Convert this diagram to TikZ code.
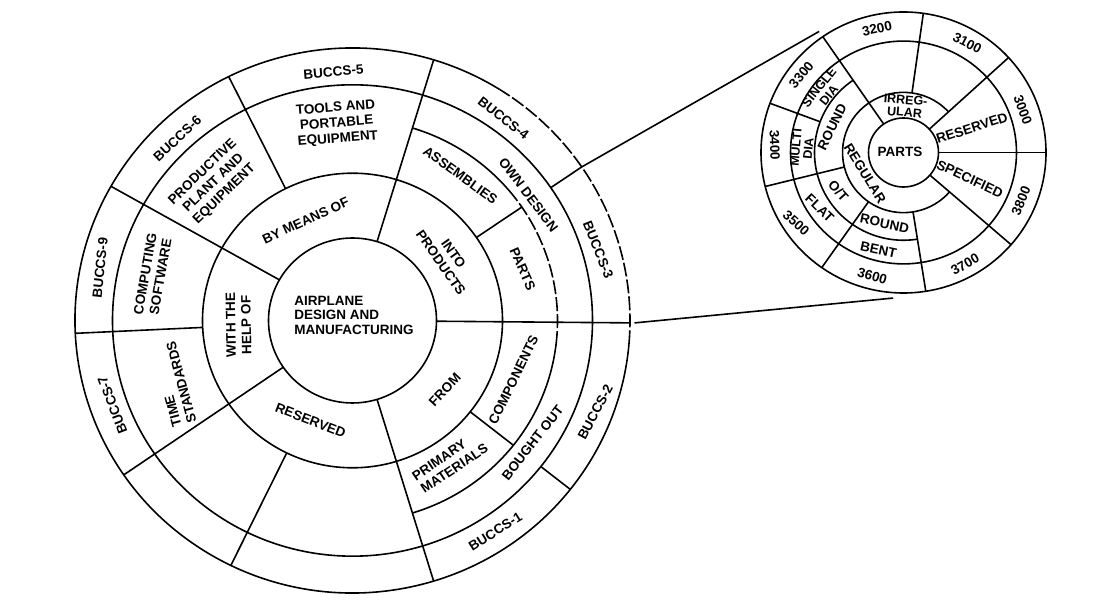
\documentclass[tikz,border=0pt]{standalone}
\usepackage{fontspec}
\setmainfont{Liberation Sans}
\tikzset{
  ring/.style={line width=1.6pt},
  worn/.style={line width=1.6pt,dash pattern=on 14pt off 3pt},
  lb/.style={font=\bfseries\fontsize{13.5}{15.5}\selectfont,align=center,inner sep=0pt},
  lbl/.style={lb,align=left},
  lbt/.style={lb,font=\bfseries\fontsize{12.5}{12.5}\selectfont},
}

\begin{document}
\begin{tikzpicture}[x=1pt,y=1pt,line join=round]
\useasboundingbox (0,0) rectangle (1098,607);
\begin{scope}[shift={(352.5,286.5)},yscale=0.982]
\draw[ring] (0,0) circle[radius=84];
\draw[ring] (0,0) circle[radius=150];
\draw[ring] (0,0) circle[radius=240];
\draw[ring] (58:277.5) arc[start angle=58,end angle=355,radius=277.5];
\draw[worn] (-5:277.5) arc[start angle=-5,end angle=58,radius=277.5];
\draw[ring] (-73:205) arc[start angle=-73,end angle=-7,radius=205];
\draw[worn] (-7:205) arc[start angle=-7,end angle=37,radius=205];
\draw[ring] (37:205) arc[start angle=37,end angle=73,radius=205];
\draw[ring] (73:84) -- (73:277.5);
\draw[ring] (-73:84) -- (-73:277.5);
\draw[ring] (-0.5:84) -- (-0.5:277.5);
\draw[ring] (150.5:84) -- (150.5:277.5);
\draw[ring] (214.5:84) -- (214.5:277.5);
\draw[ring] (116.5:150) -- (116.5:277.5);
\draw[ring] (182.7:150) -- (182.7:277.5);
\draw[ring] (-116:150) -- (-116:277.5);
\draw[ring] (34.3:150) -- (34.3:205);
\draw[ring] (34.3:240) -- (34.3:277.5);
\draw[ring] (-38.3:150) -- (-38.3:205);
\draw[ring] (-38.3:240) -- (-38.3:277.5);
\coordinate (bt) at (34.3:277.5);
\coordinate (bb) at (-0.5:282);
\node[lbl,font=\bfseries\fontsize{13.5}{14.5}\selectfont] (adm) at (1.5,5.6) {AIRPLANE\\DESIGN AND\\MANUFACTURING};
\node[lb,rotate=24.7] (bymeans) at (114.7:112) {BY MEANS OF};
\node[lb,rotate=4.5] (tools) at (94.5:201) {TOOLS AND\\PORTABLE\\EQUIPMENT};
\node[lb,rotate=5] (b5) at (94.3:254) {BUCCS-5};
\node[lb,rotate=43] (b6) at (133.4:255) {BUCCS-6};
\node[lb,rotate=44] (plant) at (134.8:197) {PRODUCTIVE\\PLANT AND\\EQUIPMENT};
\node[lb,rotate=80] (soft) at (167:205) {COMPUTING\\SOFTWARE};
\node[lb,rotate=84] (b9) at (168:258) {BUCCS-9};
\node[lb,rotate=91] (help) at (182.3:114) {WITH THE\\HELP OF};
\node[lbl,rotate=105] (time) at (200:190) {TIME\\STANDARDS};
\node[lb,rotate=111] (b7) at (199.7:255) {BUCCS-7};
\node[lb,rotate=-21] (resv) at (247.6:110) {RESERVED};
\node[lb,rotate=47] (from) at (-37.3:116) {FROM};
\node[lbl,rotate=34] (prim) at (-55.9:174) {PRIMARY\\MATERIALS};
\node[lb,rotate=64] (comp) at (-20.6:172) {COMPONENTS};
\node[lb,rotate=52] (bought) at (-34.7:219) {BOUGHT OUT};
\node[lb,rotate=32] (b1) at (-56.4:258) {BUCCS-1};
\node[lb,rotate=62] (b2) at (-21:260) {BUCCS-2};
\node[lb,rotate=-55] (into) at (33.8:114) {INTO\\PRODUCTS};
\node[lb,rotate=-36] (assy) at (53.9:183) {ASSEMBLIES};
\node[lb,rotate=-66] (parts) at (17.1:178) {PARTS};
\node[lb,rotate=-53] (own) at (36:217.5) {OWN DESIGN};
\node[lb,rotate=-38] (b4) at (53.8:255.6) {BUCCS-4};
\node[lb,rotate=-68] (b3) at (16.3:256) {BUCCS-3};
\end{scope}
\begin{scope}[shift={(903.5,454.5)},yscale=0.986]
\draw[ring] (0,0) circle[radius=35];
\draw[ring] (0,0) circle[radius=113];
\draw[ring] (0,0) circle[radius=142.5];
\draw[ring] (42.5:61) arc[start angle=42.5,end angle=319,radius=61];
\draw[ring] (124.5:89) arc[start angle=124.5,end angle=279,radius=89];
\draw[ring] (124.5:35) -- (124.5:142.5);
\draw[ring] (82:61) -- (82:142.5);
\draw[ring] (42.5:35) -- (42.5:142.5);
\draw[ring] (0:35) -- (0:142.5);
\draw[ring] (-41:35) -- (-41:142.5);
\draw[ring] (-81:61) -- (-81:142.5);
\draw[ring] (235:61) -- (235:142.5);
\draw[ring] (194:61) -- (194:142.5);
\draw[ring] (159.5:89) -- (159.5:142.5);
\coordinate (st) at (124.5:149);
\coordinate (sb) at (266:148);
\node[lb] (sparts) at (-3.5,0.5) {PARTS};
\node[lbt,rotate=-5] (irreg) at (88:47) {IRREG-\\ULAR};
\node[lb,rotate=18] (sresv) at (19.9:72.8) {RESERVED};
\node[lb,rotate=-25] (spec) at (-22:71.7) {SPECIFIED};
\node[lb,rotate=-58] (reg) at (209:44) {REGULAR};
\node[lb,rotate=64] (rnda) at (160:76) {ROUND};
\node[lbt,rotate=51] (single) at (142:101) {SINGLE\\DIA};
\node[lbt,rotate=85] (multi) at (177.5:101.5) {MULTI\\DIA};
\node[lb,rotate=-88] (s3400) at (176.7:129) {3400};
\node[lb,rotate=-48] (ot) at (211:76) {O/T};
\node[lb,rotate=-44] (flat) at (213.9:101) {FLAT};
\node[lb,rotate=-42] (s3500) at (213.7:129) {3500};
\node[lb,rotate=-12] (rndb) at (255.3:74.5) {ROUND};
\node[lb,rotate=-12] (bent) at (255.7:101.5) {BENT};
\node[lb,rotate=-16] (s3600) at (256:129) {3600};
\node[lb,rotate=30] (s3700) at (-61.5:129) {3700};
\node[lb,rotate=68] (s3800) at (-22.7:127.4) {3800};
\node[lb,rotate=-70] (s3000) at (20:127) {3000};
\node[lb,rotate=-27] (s3100) at (60.1:128) {3100};
\node[lb,rotate=12] (s3200) at (101.9:128.5) {3200};
\node[lb,rotate=50] (s3300) at (142.4:129) {3300};
\end{scope}
\draw[ring] (bt) -- (st);
\draw[ring] (bb) -- (sb);
\end{tikzpicture}
\end{document}
